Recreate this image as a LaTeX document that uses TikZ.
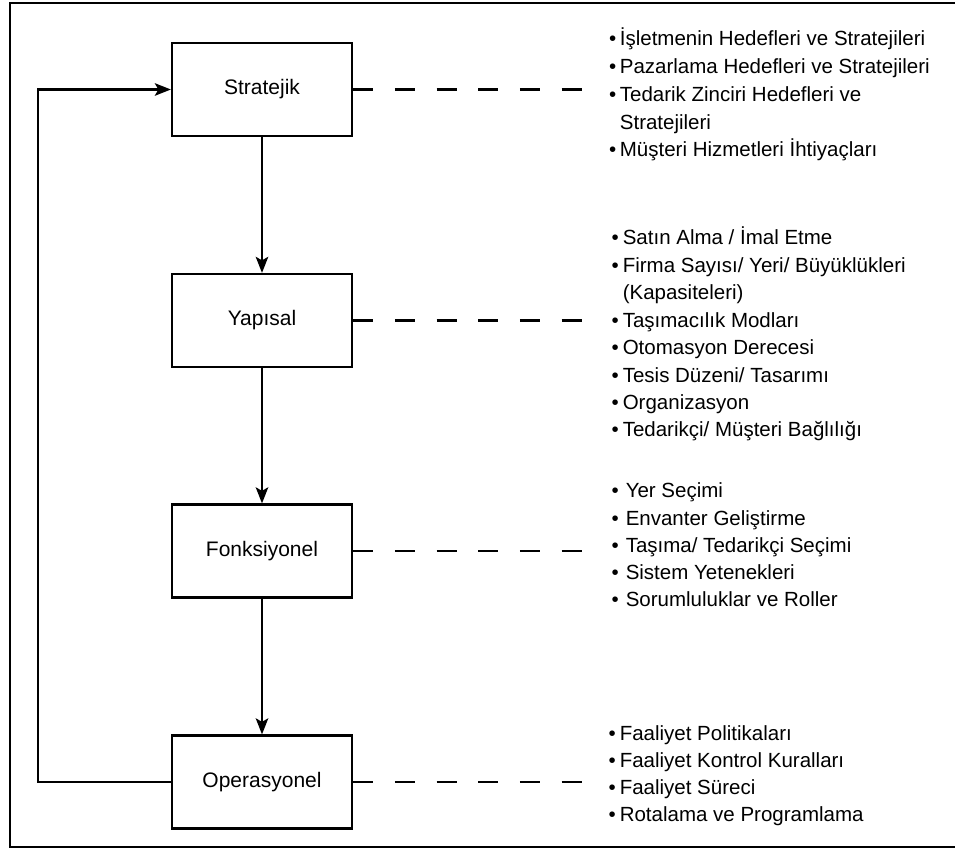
\documentclass[tikz,border=0pt]{standalone}
\usepackage{fontspec}
\setmainfont{Liberation Sans}
\usetikzlibrary{arrows.meta}

% bulleted list: #1 = space between bullet and text, #2 = rows
\newcommand{\bulletlist}[2]{%
  \begin{tabular}[t]{@{}l@{\hspace{#1}}l@{}}#2\end{tabular}}

\begin{document}
\begin{tikzpicture}[x=1pt,y=-1pt,
  level/.style={draw, line width=2.3pt, minimum width=180pt, minimum height=93pt,
    inner sep=0pt, font=\fontsize{21}{24}\selectfont},
  flow/.style={line width=2.2pt, -{Stealth[length=16pt,width=12.5pt,inset=3.5pt]}},
  link/.style={line width=2.2pt, dash pattern=on 20pt off 21.7pt},
  notes/.style={anchor=base west, inner sep=0pt, align=left},
  frame/.style={line width=2.6pt}]

\useasboundingbox (0,0) rectangle (955,850);

% outer frame (runs off the right edge)
\draw[frame] (956,3) -- (10,3) -- (10,847) -- (956,847);

% planning levels
\node[level] (strat) at (262,89.5) {Stratejik};
\node[level] (yap)   at (262,320.5) {Yapısal};
\node[level] (fonk)  at (262,551) {Fonksiyonel};
\node[level] (oper)  at (262,782) {Operasyonel};

% top-down flow
\draw[flow] (strat) -- (yap);
\draw[flow] (yap) -- (fonk);
\draw[flow] (fonk) -- (oper);

% feedback loop
\coordinate (fbl) at (38,782);
\coordinate (fbu) at (38,89.5);
\draw[flow] (oper.west) -- (fbl) -- (fbu) -- (strat.west);

% links to the detail lists
\coordinate (sEnd) at (587,89.5);
\coordinate (yEnd) at (587,320.5);
\coordinate (fEnd) at (587,551);
\coordinate (oEnd) at (587,782);
\draw[link] (strat.east) -- (sEnd);
\draw[link] (yap.east) -- (yEnd);
\draw[link] (fonk.east) -- (fEnd);
\draw[link] (oper.east) -- (oEnd);

% detail lists
\node[notes, font=\fontsize{20.5}{27.7}\selectfont] (sNotes) at (609,46) {\bulletlist{3.5pt}{%
  • & İşletmenin Hedefleri ve Stratejileri\\
  • & Pazarlama Hedefleri ve Stratejileri\\
  • & Tedarik Zinciri Hedefleri ve\\
    & Stratejileri\\
  • & Müşteri Hizmetleri İhtiyaçları}};

\node[notes, font=\fontsize{20.5}{27.4}\selectfont] (yNotes) at (611.4,245) {\bulletlist{4pt}{%
  • & Satın Alma / İmal Etme\\
  • & Firma Sayısı/ Yeri/ Büyüklükleri\\
    & (Kapasiteleri)\\
  • & Taşımacılık Modları\\
  • & Otomasyon Derecesi\\
  • & Tesis Düzeni/ Tasarımı\\
  • & Organizasyon\\
  • & Tedarikçi/ Müşteri Bağlılığı}};

\node[notes, font=\fontsize{20.5}{27.3}\selectfont] (fNotes) at (611.4,497.7) {\bulletlist{7pt}{%
  • & Yer Seçimi\\
  • & Envanter Geliştirme\\
  • & Taşıma/ Tedarikçi Seçimi\\
  • & Sistem Yetenekleri\\
  • & Sorumluluklar ve Roller}};

\node[notes, font=\fontsize{20.5}{26.8}\selectfont] (oNotes) at (608.4,740.7) {\bulletlist{4pt}{%
  • & Faaliyet Politikaları\\
  • & Faaliyet Kontrol Kuralları\\
  • & Faaliyet Süreci\\
  • & Rotalama ve Programlama}};

\end{tikzpicture}
\end{document}
